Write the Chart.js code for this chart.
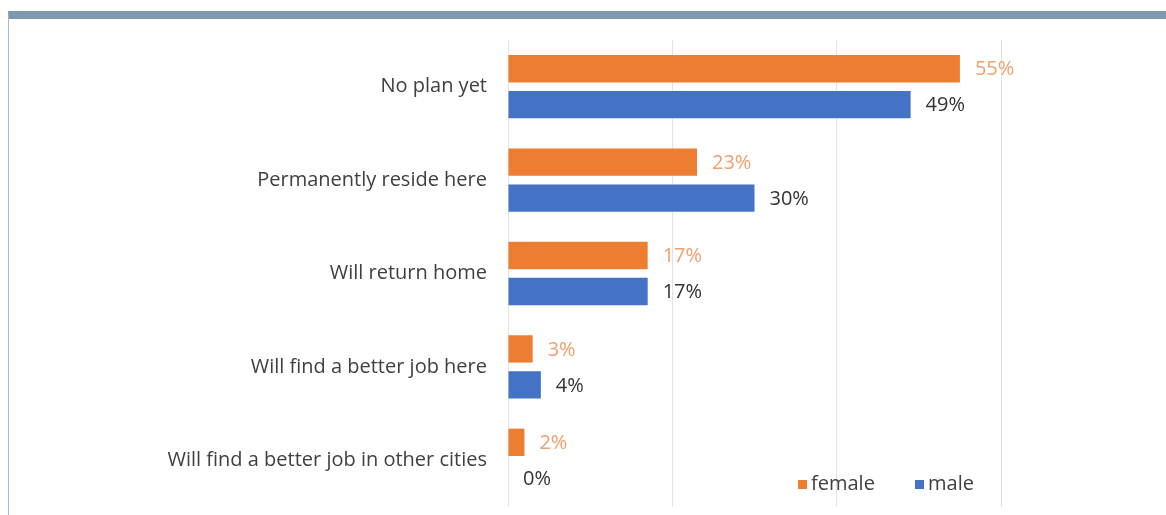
<!DOCTYPE html>
<html>
<head>
<meta charset="utf-8">
<title>Future plans by gender</title>
<script src="https://cdn.jsdelivr.net/npm/chart.js@4/dist/chart.umd.min.js"></script>
<style>
  html, body { margin: 0; padding: 0; background: #fff; }
  .frame {
    position: absolute; left: 8px; top: 11px; width: 1158px; height: 504px;
    border-top: 8px solid #7f9ab0; border-left: 1px solid #a8bbcc;
    box-sizing: border-box;
  }
  .wrap { position: absolute; left: 0; top: 0; width: 1166px; height: 515px; }
</style>
</head>
<body>
<div class="frame"></div>
<div class="wrap"><canvas id="chart" width="1166" height="515"></canvas></div>
<script>
/* =============== Data =============== */
const categories = [
  "No plan yet",
  "Permanently reside here",
  "Will return home",
  "Will find a better job here",
  "Will find a better job in other cities"
];
const femaleValues = [55, 23, 17, 3, 2];
const maleValues = [49, 30, 17, 4, 0];
const xTicks = [0, 20, 40, 60];

const FONT = "'Open Sans', 'DejaVu Sans', sans-serif";

/* =============== Plugins =============== */
// value labels to the right of each bar
const valueLabels = {
  id: "valueLabels",
  afterDatasetsDraw(chart) {
    const ctx = chart.ctx;
    ctx.save();
    ctx.font = "20px " + FONT;
    ctx.textBaseline = "middle";
    ctx.textAlign = "left";
    chart.data.datasets.forEach((ds, i) => {
      const meta = chart.getDatasetMeta(i);
      meta.data.forEach((bar, j) => {
        ctx.fillStyle = ds.labelColor;
        ctx.fillText(ds.data[j] + "%", bar.x + 15, bar.y + 1);
      });
    });
    ctx.restore();
  }
};

// small legend in the lower right corner
const cornerLegend = {
  id: "cornerLegend",
  afterDraw(chart) {
    const ctx = chart.ctx;
    ctx.save();
    ctx.font = "20px " + FONT;
    ctx.textBaseline = "middle";
    let x = 798;
    const y = 484;
    chart.data.datasets.forEach(ds => {
      ctx.fillStyle = ds.backgroundColor;
      ctx.fillRect(x, y - 4, 9, 9);
      ctx.fillStyle = "#404040";
      ctx.fillText(ds.label, x + 13, y);
      x += 117;
    });
    ctx.restore();
  }
};

/* =============== Chart =============== */
new Chart(document.getElementById("chart"), {
  type: "bar",
  data: {
    labels: categories,
    datasets: [
      { label: "female", data: femaleValues, backgroundColor: "#ed7d31", labelColor: "#f0a06c" },
      { label: "male", data: maleValues, backgroundColor: "#4472c4", labelColor: "#333333" }
    ]
  },
  options: {
    indexAxis: "y",
    responsive: false,
    animation: false,
    categoryPercentage: 0.77,
    barPercentage: 0.76,
    layout: { padding: { top: 40, right: 165, bottom: 8, left: 0 } },
    plugins: {
      legend: { display: false },
      tooltip: { enabled: false }
    },
    scales: {
      x: {
        min: 0,
        max: 60,
        afterBuildTicks(scale) { scale.ticks = xTicks.map(v => ({ value: v })); },
        afterFit(scale) { scale.height = 0; },
        ticks: { display: false },
        border: { display: false },
        grid: { color: "#e2e2e2", drawTicks: false }
      },
      y: {
        afterFit(scale) {
          scale.width = 508;
          scale.paddingTop = 0;
          scale.paddingBottom = 0;
        },
        border: { display: false },
        grid: { display: false, drawTicks: false },
        ticks: {
          padding: 21,
          color: "#404040",
          font: { family: FONT, size: 20 }
        }
      }
    }
  },
  plugins: [valueLabels, cornerLegend]
});
</script>
</body>
</html>
